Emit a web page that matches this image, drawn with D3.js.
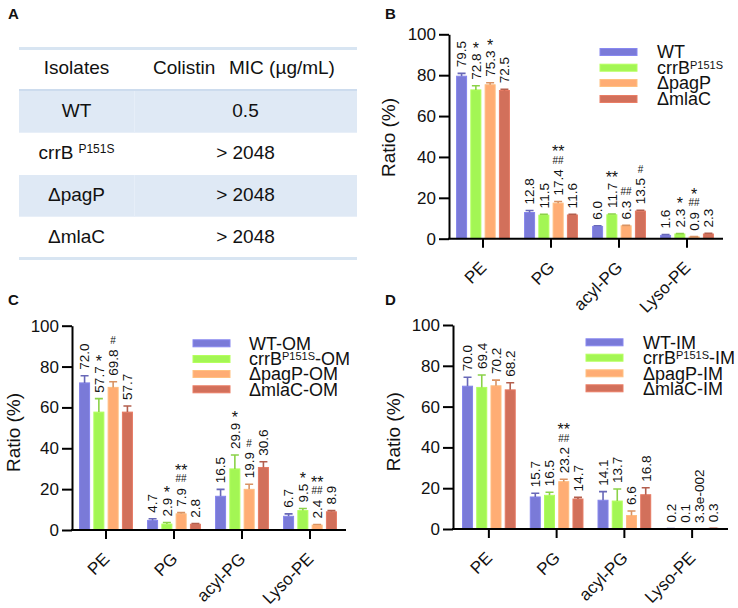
<!DOCTYPE html>
<html><head><meta charset="utf-8">
<script src="https://cdn.jsdelivr.net/npm/d3@7"></script>
<style>body{margin:0;background:#fff} svg{display:block} text{font-family:"Liberation Sans",Arial,Helvetica,sans-serif;fill:#111}</style>
</head><body><svg id="c" width="738" height="608"></svg>
<script>
// ---------- DATA ----------
const categories = ["PE", "PG", "acyl-PG", "Lyso-PE"];
const yTicks = [0, 20, 40, 60, 80, 100];
const colors = ["#7a7ad8", "#a3f654", "#ffad74", "#d2705b"];

const tableHeader = ["Isolates", "Colistin", "MIC (µg/mL)"];
const tableIsolates = [["WT"], ["crrB", "P151S"], ["ΔpagP"], ["ΔmlaC"]];
const tableMIC = ["0.5", "> 2048", "> 2048", "> 2048"];

// Panel B (rows = series, columns = categories)
const bLegend = [["WT"], ["crrB", "P151S"], ["ΔpagP"], ["ΔmlaC"]];
const bValues = [[79.5, 12.8, 6.0, 1.6], [72.8, 11.5, 11.7, 2.3], [75.3, 17.4, 6.3, 0.9], [72.5, 11.6, 13.5, 2.3]];
const bErrors = [[1.4, 1.0, 0.3, 0.4], [2.0, 0.4, 0.4, 0.2], [1.0, 0.8, 0.2, 0.1], [0.6, 0.3, 0.4, 0.3]];
const bLabels = [["79.5", "12.8", "6.0", "1.6"], ["72.8", "11.5", "11.7", "2.3"], ["75.3", "17.4", "6.3", "0.9"], ["72.5", "11.6", "13.5", "2.3"]];
const bStars = [["", "", "", ""], ["*", "", "**", "*"], ["*", "**", "", "*"], ["", "", "", ""]];
const bHashes = [["", "", "", ""], ["", "", "", ""], ["", "##", "##", "##"], ["", "", "#", ""]];

// Panel C
const cLegend = [["WT-OM"], ["crrB", "P151S", "-OM"], ["ΔpagP-OM"], ["ΔmlaC-OM"]];
const cValues = [[72.0, 4.7, 16.5, 6.7], [57.7, 2.9, 29.9, 9.5], [69.8, 7.9, 19.9, 2.4], [57.7, 2.8, 30.6, 8.9]];
const cErrors = [[3.5, 0.8, 3.4, 1.2], [6.6, 0.8, 6.8, 1.0], [2.8, 0.6, 2.5, 0.3], [3.0, 0.3, 2.8, 0.6]];
const cLabels = [["72.0", "4.7", "16.5", "6.7"], ["57.7", "2.9", "29.9", "9.5"], ["69.8", "7.9", "19.9", "2.4"], ["57.7", "2.8", "30.6", "8.9"]];
const cStars = [["", "", "", ""], ["*", "*", "*", "*"], ["", "**", "", "**"], ["", "", "", ""]];
const cHashes = [["", "", "", ""], ["", "", "", ""], ["#", "##", "#", "##"], ["", "", "", ""]];

// Panel D
const dLegend = [["WT-IM"], ["crrB", "P151S", "-IM"], ["ΔpagP-IM"], ["ΔmlaC-IM"]];
const dValues = [[70.0, 15.7, 14.1, 0.2], [69.4, 16.5, 13.7, 0.1], [70.2, 23.2, 6.6, 0.033], [68.2, 14.7, 16.8, 0.3]];
const dErrors = [[4.4, 1.8, 4.2, 0.05], [6.1, 1.5, 5.9, 0.05], [2.8, 1.2, 2.2, 0.02], [3.5, 0.8, 3.4, 0.05]];
const dLabels = [["70.0", "15.7", "14.1", "0.2"], ["69.4", "16.5", "13.7", "0.1"], ["70.2", "23.2", "6.6", "3.3e-002"], ["68.2", "14.7", "16.8", "0.3"]];
const dStars = [["", "", "", ""], ["", "", "", ""], ["", "**", "", ""], ["", "", "", ""]];
const dHashes = [["", "", "", ""], ["", "", "", ""], ["", "##", "", ""], ["", "", "", ""]];

// ---------- DRAW ----------
const svg = d3.select("#c");

// panel letters
[["A", 8, 19], ["B", 385, 19], ["C", 8, 305], ["D", 385, 305]].forEach(([t, x, y]) => {
  svg.append("text").attr("x", x).attr("y", y).attr("font-size", 15).attr("font-weight", "bold").text(t);
});

// ----- Table (A) -----
(function () {
  const g = svg.append("g");
  const L = 19, R = 357;
  const lines = [48.5, 90, 132.7, 175, 216.7, 258.5];
  [0, 2].forEach(i => {
    g.append("rect").attr("x", L).attr("y", lines[i + 1]).attr("width", R - L)
      .attr("height", lines[i + 2] - lines[i + 1]).attr("fill", "#dfe9f5");
    g.append("line").attr("x1", 134.5).attr("x2", 134.5).attr("y1", lines[i + 1]).attr("y2", lines[i + 2])
      .attr("stroke", "#e6eef8").attr("stroke-width", 1);
  });
  g.append("line").attr("x1", L).attr("x2", R).attr("y1", lines[0]).attr("y2", lines[0]).attr("stroke", "#d8e5f2").attr("stroke-width", 3);
  g.append("line").attr("x1", L).attr("x2", R).attr("y1", lines[1]).attr("y2", lines[1]).attr("stroke", "#cddcee").attr("stroke-width", 2);
  g.append("line").attr("x1", L).attr("x2", R).attr("y1", lines[5]).attr("y2", lines[5]).attr("stroke", "#d8e5f2").attr("stroke-width", 3);
  const fs = 19;
  g.append("text").attr("x", 76.5).attr("y", 74).attr("text-anchor", "middle").attr("font-size", fs).text(tableHeader[0]);
  g.append("text").attr("x", 153).attr("y", 74).attr("font-size", fs).text(tableHeader[1]);
  g.append("text").attr("x", 229).attr("y", 74).attr("font-size", fs).text(tableHeader[2]);
  const base = [116.7, 159.3, 201, 243];
  tableIsolates.forEach((parts, i) => {
    const t = g.append("text").attr("x", 76.5).attr("y", base[i]).attr("text-anchor", "middle").attr("font-size", fs);
    t.append("tspan").text(parts[0]);
    if (parts[1]) t.append("tspan").attr("dx", 5).attr("dy", -6).attr("font-size", 12).text(parts[1]);
  });
  tableMIC.forEach((m, i) => {
    g.append("text").attr("x", 245.5).attr("y", base[i]).attr("text-anchor", "middle").attr("font-size", fs).text(m);
  });
})();

// ----- Bar panels -----
function drawPanel(cfg) {
  const g = svg.append("g");
  const x = d3.scaleBand().domain(categories).range(cfg.xRange);
  const y = d3.scaleLinear().domain([0, 100]).range([cfg.y0, cfg.y100]);
  const series = d3.range(cfg.values.length);
  const inner = d3.scaleBand().domain(series).range([-0.42 * x.bandwidth(), 0.42 * x.bandwidth()]);
  const bw = 10;
  const data = [];
  series.forEach(si => categories.forEach((c, ci) => data.push({
    si, c, v: cfg.values[si][ci], e: cfg.errors[si][ci], label: cfg.labels[si][ci],
    star: cfg.stars[si][ci], hash: cfg.hashes[si][ci],
    cx: x(c) + x.bandwidth() / 2 + inner(si) + inner.bandwidth() / 2
  })));

  // bars
  g.selectAll(".bar").data(data).join("rect")
    .attr("x", d => d.cx - bw / 2).attr("width", bw)
    .attr("y", d => y(d.v)).attr("height", d => Math.max(0, y(0) - y(d.v)))
    .attr("fill", d => colors[d.si])
    .attr("stroke", d => d3.color(colors[d.si]).brighter(0.25)).attr("stroke-width", 1);
  // error bars
  g.selectAll(".err").data(data).join("path")
    .attr("d", d => `M${d.cx},${y(d.v)}V${y(d.v + d.e)}M${d.cx - 4},${y(d.v + d.e)}H${d.cx + 4}`)
    .attr("stroke", d => d3.color(colors[d.si]).darker(0.45)).attr("stroke-width", 1.6).attr("fill", "none");

  // value labels + significance marks
  data.forEach(d => {
    const top = y(d.v + d.e) - 6;
    const t = g.append("text").attr("transform", `translate(${d.cx},${top}) rotate(-90)`)
      .attr("dy", "0.36em").attr("font-size", 13.5).text(d.label);
    const labelTop = top - t.node().getComputedTextLength();
    let starCenter = labelTop - 9;
    if (d.hash) {
      const hc = labelTop - 9;
      g.append("text").attr("x", d.cx).attr("y", hc + 3.6).attr("text-anchor", "middle")
        .attr("font-size", 10).text(d.hash);
      starCenter = hc - 12.5;
    }
    if (d.star) {
      g.append("text").attr("x", d.cx).attr("y", starCenter + 9.3).attr("text-anchor", "middle")
        .attr("font-size", 16).text(d.star);
    }
  });

  // y axis
  const ya = g.append("g").attr("transform", `translate(${cfg.yAxisX},0)`)
    .call(d3.axisLeft(y).tickValues(yTicks).tickSize(10).tickPadding(3).tickSizeOuter(0));
  ya.select(".domain").attr("stroke", "#000").attr("stroke-width", 2);
  ya.selectAll(".tick line").attr("stroke", "#000").attr("stroke-width", 2);
  ya.selectAll(".tick text").attr("font-size", 17).attr("font-family", null).attr("fill", "#111");

  // x axis
  const xa = g.append("g").attr("transform", `translate(0,${cfg.y0})`)
    .call(d3.axisBottom(x).tickSize(9).tickSizeOuter(0));
  xa.select(".domain").remove();
  xa.selectAll(".tick line").attr("stroke", "#000").attr("stroke-width", 2);
  xa.selectAll(".tick text").attr("font-size", 17).attr("font-family", null).attr("fill", "#111")
    .attr("y", 0).attr("x", 0).attr("dy", 0).attr("text-anchor", "end")
    .attr("transform", "translate(4.5,30) rotate(-45)");
  g.append("line").attr("x1", cfg.yAxisX - 1).attr("x2", cfg.xRange[1] + 2)
    .attr("y1", cfg.y0).attr("y2", cfg.y0).attr("stroke", "#000").attr("stroke-width", 2);

  // axis title
  g.append("text").attr("transform", `translate(${cfg.titleX},${cfg.titleY}) rotate(-90)`)
    .attr("text-anchor", "middle").attr("font-size", 19).text("Ratio (%)");

  // legend
  cfg.legend.forEach((parts, i) => {
    const cy = cfg.legRows[i];
    g.append("rect").attr("x", cfg.legSwX).attr("y", cy - 3.5).attr("width", 37).attr("height", 7)
      .attr("fill", colors[i]).attr("stroke", d3.color(colors[i]).brighter(0.3)).attr("stroke-width", 1);
    const t = g.append("text").attr("x", cfg.legTextX).attr("y", cy + 6.4).attr("font-size", 18);
    t.append("tspan").text(parts[0]);
    if (parts[1]) t.append("tspan").attr("dy", -5).attr("font-size", 11).text(parts[1]);
    if (parts[2]) t.append("tspan").attr("dy", 5).attr("font-size", 18).text(parts[2]);
  });
}

drawPanel({
  values: bValues, errors: bErrors, labels: bLabels, stars: bStars, hashes: bHashes, legend: bLegend,
  xRange: [449, 721], yAxisX: 449, y0: 238.7, y100: 34.3, titleX: 395, titleY: 137.5,
  legSwX: 600, legTextX: 657, legRows: [52, 67.7, 83, 99]
});
drawPanel({
  values: cValues, errors: cErrors, labels: cLabels, stars: cStars, hashes: cHashes, legend: cLegend,
  xRange: [72, 344], yAxisX: 72, y0: 530, y100: 325.7, titleX: 20, titleY: 432.5,
  legSwX: 193, legTextX: 249, legRows: [343.3, 359, 374, 389.3]
});
drawPanel({
  values: dValues, errors: dErrors, labels: dLabels, stars: dStars, hashes: dHashes, legend: dLegend,
  xRange: [455, 726], yAxisX: 453, y0: 529, y100: 325, titleX: 400, titleY: 431.7,
  legSwX: 586, legTextX: 643, legRows: [342.3, 357.7, 373.3, 388.3]
});
</script></body></html>
